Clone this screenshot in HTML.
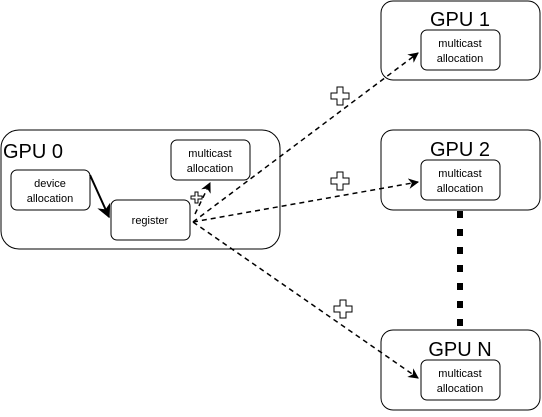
<!DOCTYPE html><html><head><style>body{margin:0;background:#fff}text{font-family:"Liberation Sans",sans-serif;fill:#000}</style></head><body>
<svg width="542" height="412" viewBox="0 0 542 412" xmlns="http://www.w3.org/2000/svg">
<defs><marker id="a" viewBox="0 0 10 10" refX="9" refY="5" markerWidth="7" markerHeight="7" orient="auto"><path d="M0,0L10,5L0,10L3,5z" fill="#000"/></marker></defs>
<g fill="#fff" stroke="#000">
<rect x="1" y="130" width="279" height="119" rx="18"/>
<rect x="381" y="1" width="159" height="79" rx="12"/>
<rect x="381" y="130" width="159" height="80" rx="12"/>
<rect x="381" y="330" width="159" height="80" rx="12"/>
<rect x="11" y="170" width="79" height="40" rx="6"/>
<rect x="111" y="200" width="79" height="40" rx="6"/>
<rect x="171" y="140" width="79" height="40" rx="6"/>
<rect x="421" y="30" width="79" height="40" rx="6"/>
<rect x="421" y="160" width="79" height="40" rx="6"/>
<rect x="421" y="360" width="79" height="40" rx="6"/>
</g>
<line x1="460" y1="211" x2="460" y2="330" stroke="#000" stroke-width="6" stroke-dasharray="7 11"/>
<g stroke="#000" stroke-width="1.5" fill="none" stroke-dasharray="5 4">
<line x1="193" y1="222" x2="418" y2="53" marker-end="url(#a)"/>
<line x1="193" y1="222" x2="418" y2="182" marker-end="url(#a)"/>
<line x1="193" y1="222" x2="418" y2="378" marker-end="url(#a)"/>
<line x1="195" y1="214" x2="210" y2="183" marker-end="url(#a)"/>
</g>
<line x1="90" y1="175" x2="109" y2="217" stroke="#000" stroke-width="2" marker-end="url(#a)"/>
<g fill="#fff" stroke="#000">
<path d="M337,87h6v6h6v6h-6v6h-6v-6h-6v-6h6z"/>
<path d="M337,172h6v6h6v6h-6v6h-6v-6h-6v-6h6z"/>
<path d="M340,300h6v6h6v6h-6v6h-6v-6h-6v-6h6z"/>
<path d="M195,192h3v4h4v3h-4v4h-3v-4h-4v-3h4z"/>
</g>
<g font-size="11" text-anchor="middle">
<text x="50" y="187">device</text><text x="50" y="202">allocation</text>
<text x="150" y="224">register</text>
<text x="210" y="157">multicast</text><text x="210" y="172">allocation</text>
<text x="460" y="47">multicast</text><text x="460" y="62">allocation</text>
<text x="460" y="177">multicast</text><text x="460" y="192">allocation</text>
<text x="460" y="377">multicast</text><text x="460" y="392">allocation</text>
</g>
<g font-size="20">
<text x="3" y="158">GPU 0</text>
<text x="460" y="26" text-anchor="middle">GPU 1</text>
<text x="460" y="156" text-anchor="middle">GPU 2</text>
<text x="460" y="356" text-anchor="middle">GPU N</text>
</g>
</svg></body></html>
